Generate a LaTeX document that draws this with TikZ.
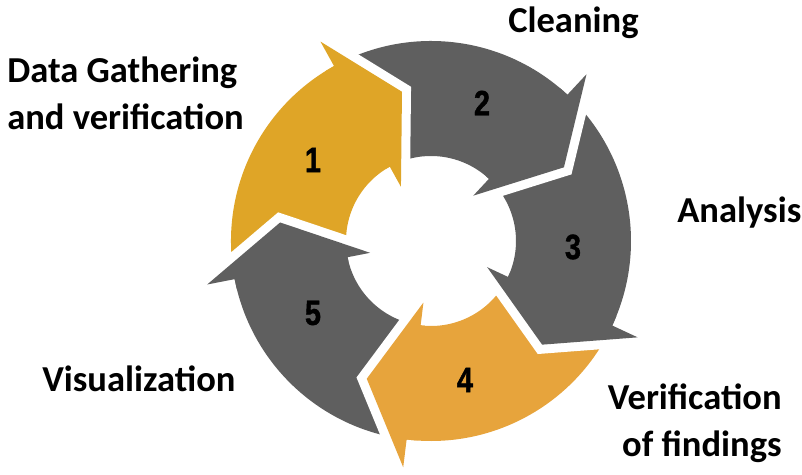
\documentclass[tikz,border=0pt]{standalone}
\usepackage{fontspec}
\setmainfont{Carlito}
\newfontfamily\numfont[FakeStretch=0.82,FakeBold=1.2]{Liberation Sans}
\usepackage{xcolor}
\usetikzlibrary{positioning}

\definecolor{cyclegold}{HTML}{DFA527}
\definecolor{cycleorange}{HTML}{E7A43C}
\definecolor{cyclegray}{HTML}{5F5F5F}

\begin{document}
\begin{tikzpicture}[
        steplabel/.style={font=\bfseries\fontsize{26}{33.5}\selectfont, inner sep=0pt},
        stepnum/.style={font=\numfont\bfseries\fontsize{25}{25}\selectfont, inner sep=0pt},
        gapline/.style={white, line width=0.45cm}]

        \useasboundingbox (-10.775,-5.85) rectangle (9.275,6.025);

        % Ring bodies
        \foreach \b/\col in {119/cyclegold, 47/cyclegray, -25/cyclegray, -97/cycleorange, -169/cyclegray}
            \fill[\col] (\b+72:5) arc[start angle=\b+72, end angle=\b-1, radius=5]
                -- (\b-1:2.125) arc[start angle=\b-1, end angle=\b+72, radius=2.125] -- cycle;

        % Arrow heads (with a small overlap back into the body)
        \foreach \b/\col in {119/cyclegold, 47/cyclegray, -25/cyclegray, -97/cycleorange, -169/cyclegray}{
            \draw[gapline] (\b:5.7) -- (\b-18:3.8) -- (\b:1.55);
            \fill[\col] (\b:5.7) -- (\b-18:3.8) -- (\b:1.55) -- (\b:2.125)
                arc[start angle=\b, end angle=\b+3, radius=2.125] -- (\b+3:5)
                arc[start angle=\b+3, end angle=\b, radius=5] -- cycle;
        }

        % Numbers
        \node[stepnum] (num1) at (-2.95,2.025) {1};
        \node[stepnum] (num2) at (1.275,3.45) {2};
        \node[stepnum] (num3) at (3.55,-0.15) {3};
        \node[stepnum] (num4) at (0.85,-3.475) {4};
        \node[stepnum] (num5) at (-2.95,-1.8) {5};

        % Labels
        \node[steplabel, anchor=base west, align=left] (gather) at (-10.6,2.775) {Data Gathering\\and verification};
        \node[steplabel, anchor=base west] (clean) at (1.925,5.2) {Cleaning};
        \node[steplabel, anchor=base west] (analysis) at (6.15,0.45) {Analysis};
        \node[steplabel, anchor=base east, align=right] (verify) at (8.775,-5.4) {Verification\\of findings};
        \node[steplabel, anchor=base west] (visual) at (-9.725,-3.775) {Visualization};

\end{tikzpicture}
\end{document}
